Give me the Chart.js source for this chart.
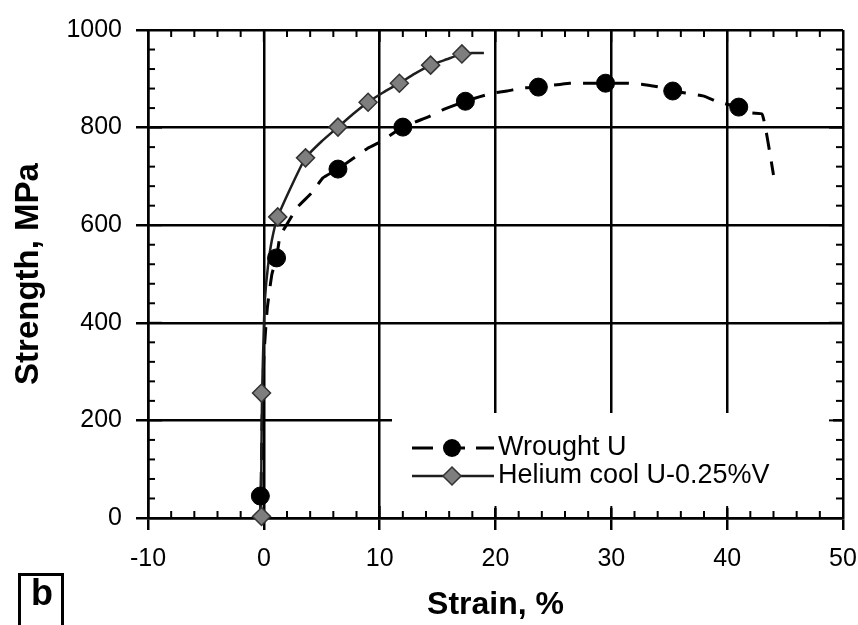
<!DOCTYPE html>
<html><head><meta charset="utf-8">
<script src="https://cdn.jsdelivr.net/npm/chart.js@4.4.0/dist/chart.umd.min.js"></script>
<style>html,body{margin:0;padding:0;background:#fff;}canvas{display:block;}</style>
</head><body>
<canvas id="c" width="858" height="625"></canvas>
<script>
// ---- data ----
const xTickLabels = ['-10', '0', '10', '20', '30', '40', '50'];
const yTickLabels = ['0', '200', '400', '600', '800', '1000'];

const wroughtStrain = [-0.3, -0.25, -0.15, 0.0, 0.3, 0.7, 1.1, 1.4, 2.2, 2.9, 4.2, 5.1, 6.4, 9.0, 10.0, 12.0, 14.3, 15.4, 17.4, 18.6, 19.8, 21.0, 22.3, 23.7, 26.4, 28.0, 29.5, 31.2, 32.6, 34.2, 35.3, 37.9, 39.3, 41.0, 42.1, 43.0, 43.3, 43.6, 44.0];
const wroughtStress = [0, 48, 200, 330, 430, 500, 533, 577, 610, 637, 668, 697, 715, 758, 770, 801, 823, 836, 854, 863, 871, 875, 881, 883, 891, 891, 891, 891, 889, 883, 875, 865, 852, 842, 830, 828, 800, 760, 703];
const wroughtMarkStrain = [-0.3, 1.1, 6.4, 12.0, 17.4, 23.7, 29.5, 35.3, 41.0];
const wroughtMarkStress = [45, 533, 715, 801, 854, 883, 891, 875, 842];

const heliumStrain = [-0.25, -0.2, -0.15, 0.0, 0.1, 0.35, 0.7, 1.2, 2.5, 3.6, 5.0, 6.4, 7.7, 9.0, 10.3, 11.7, 13.0, 14.4, 15.8, 17.1, 18.0, 19.0];
const heliumStress = [0, 150, 256, 390, 450, 514, 570, 617, 686, 738, 772, 801, 828, 852, 872, 891, 910, 928, 940, 951, 953, 953];
const heliumMarkStrain = [-0.2, -0.2, 1.2, 3.6, 6.4, 9.0, 11.7, 14.4, 17.1];
const heliumMarkStress = [3, 256, 617, 738, 801, 852, 891, 928, 951];

const seriesNames = ['Wrought U', 'Helium cool U-0.25%V'];

const pts = (xs, ys) => xs.map((v, i) => ({x: v, y: ys[i]}));
const FONT = '"Liberation Sans", Arial, Helvetica, sans-serif';

const decor = {
  id: 'decor',
  beforeDatasetsDraw(chart) {
    const {ctx, chartArea: a, scales: {x, y}} = chart;
    ctx.save();
    // legend background (hides grid behind the legend)
    ctx.fillStyle = '#fff';
    ctx.fillRect(392, 413, a.right - 10 - 392, 95);
    ctx.strokeStyle = '#000';
    ctx.lineWidth = 2;
    const seg = (x1, y1, x2, y2) => { ctx.beginPath(); ctx.moveTo(x1, y1); ctx.lineTo(x2, y2); ctx.stroke(); };
    for (let v = -10; v <= 50; v += 2) {
      const px = x.getPixelForValue(v);
      const L = (v % 10 === 0) ? 12 : 7;
      seg(px, a.bottom, px, a.bottom - L);
      seg(px, a.top, px, a.top + L);
    }
    for (let v = 0; v <= 1000; v += 40) {
      const py = y.getPixelForValue(v);
      const L = (v % 200 === 0) ? 14 : 7;
      seg(a.left, py, a.left + L, py);
      seg(a.right, py, a.right - L, py);
    }
    ctx.restore();
  },
  afterDraw(chart) {
    const {ctx} = chart;
    const ds = chart.data.datasets;
    ctx.save();
    // legend
    const lx0 = 412, lx1 = 494, mx = 452, ty = [448, 476], tx = 498;
    // row 1: dashed + circle
    ctx.strokeStyle = ds[3].borderColor; ctx.lineWidth = ds[3].borderWidth;
    ctx.setLineDash([21, 11]);
    ctx.beginPath(); ctx.moveTo(lx0, ty[0]); ctx.lineTo(lx1, ty[0]); ctx.stroke();
    ctx.setLineDash([]);
    ctx.fillStyle = ds[0].pointBackgroundColor;
    ctx.beginPath(); ctx.arc(mx, ty[0], ds[0].pointRadius, 0, Math.PI * 2); ctx.fill();
    // row 2: solid + diamond
    ctx.strokeStyle = ds[2].borderColor; ctx.lineWidth = ds[2].borderWidth;
    ctx.beginPath(); ctx.moveTo(lx0, ty[1]); ctx.lineTo(lx1, ty[1]); ctx.stroke();
    const r = ds[1].pointRadius;
    ctx.beginPath(); ctx.moveTo(mx, ty[1] - r); ctx.lineTo(mx + r, ty[1]); ctx.lineTo(mx, ty[1] + r); ctx.lineTo(mx - r, ty[1]); ctx.closePath();
    ctx.fillStyle = ds[1].pointBackgroundColor; ctx.fill();
    ctx.strokeStyle = ds[1].pointBorderColor; ctx.lineWidth = ds[1].pointBorderWidth; ctx.stroke();
    ctx.fillStyle = '#000';
    ctx.font = '27px ' + FONT;
    ctx.textAlign = 'left'; ctx.textBaseline = 'middle';
    ctx.fillText(ds[0].label, tx, ty[0]);
    ctx.fillText(ds[1].label, tx, ty[1]);
    // panel letter box
    ctx.lineWidth = 3; ctx.strokeStyle = '#000';
    ctx.strokeRect(19.5, 574.5, 43, 60);
    ctx.font = 'bold 36px ' + FONT;
    ctx.textAlign = 'center'; ctx.textBaseline = 'alphabetic';
    ctx.fillText('b', 42, 605);
    ctx.restore();
  }
};

new Chart(document.getElementById('c'), {
  type: 'scatter',
  data: {
    datasets: [
      { label: seriesNames[0], data: pts(wroughtMarkStrain, wroughtMarkStress), showLine: false,
        pointStyle: 'circle', pointRadius: 9, pointBackgroundColor: '#000', pointBorderColor: '#000', pointBorderWidth: 1, clip: false },
      { label: seriesNames[1], data: pts(heliumMarkStrain, heliumMarkStress), showLine: false,
        pointStyle: 'rectRot', pointRadius: 9, pointBackgroundColor: '#7e7e7e', pointBorderColor: '#333', pointBorderWidth: 1.5, clip: false },
      { label: seriesNames[1] + ' curve', data: pts(heliumStrain, heliumStress), showLine: true,
        borderColor: '#1e1e1e', borderWidth: 2.5, pointRadius: 0, tension: 0.15 },
      { label: seriesNames[0] + ' curve', data: pts(wroughtStrain, wroughtStress), showLine: true,
        borderColor: '#000', borderWidth: 3, borderDash: [17, 12], pointRadius: 0, tension: 0.15 }
    ]
  },
  options: {
    responsive: false, animation: false, devicePixelRatio: 1,
    layout: { padding: { top: 30, right: 15, left: 0, bottom: 0 } },
    plugins: { legend: { display: false }, tooltip: { enabled: false } },
    scales: {
      x: {
        type: 'linear', position: 'bottom', min: -10, max: 50,
        afterFit: s => { s.height = 107; s.paddingLeft = 0; s.paddingRight = 0; },
        ticks: { stepSize: 10, color: '#000', maxRotation: 0, padding: 14,
          font: { family: FONT, size: 25 }, callback: (v, i) => xTickLabels[i] },
        grid: { color: '#000', lineWidth: 2.5, tickLength: 12, tickColor: '#000', tickWidth: 2.5 },
        border: { color: '#000', width: 2.5 },
        title: { display: true, text: 'Strain, %', color: '#000',
          font: { family: FONT, size: 32, weight: 'bold' }, padding: { top: 0, bottom: 1 } }
      },
      y: {
        type: 'linear', position: 'left', min: 0, max: 1000,
        afterFit: s => { s.width = 148; s.paddingTop = 0; s.paddingBottom = 0; },
        ticks: { stepSize: 200, color: '#000', padding: 14,
          font: { family: FONT, size: 25 }, callback: (v, i) => yTickLabels[i] },
        grid: { color: '#000', lineWidth: 2.5, tickLength: 12, tickColor: '#000', tickWidth: 2.5 },
        border: { color: '#000', width: 2.5 },
        title: { display: true, text: 'Strength, MPa', color: '#000',
          font: { family: FONT, size: 33, weight: 'bold' }, padding: { top: 9, bottom: 0 } }
      }
    }
  },
  plugins: [decor]
});
</script>
</body></html>
